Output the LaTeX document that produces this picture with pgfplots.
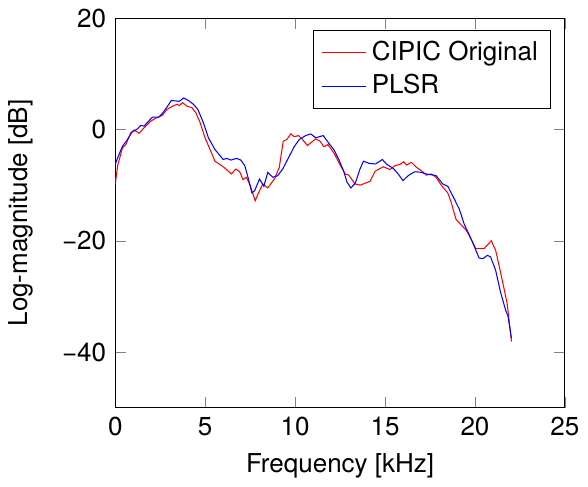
\documentclass[border=0pt]{standalone}
\usepackage{fontspec}
\setmainfont{TeX Gyre Heros}
\usepackage{pgfplots}
\pgfplotsset{compat=1.18}
\begin{document}
\begin{tikzpicture}
\begin{axis}[
  scale only axis,
  width=173pt, height=150pt,
  xmin=0, xmax=25, ymin=-50, ymax=20,
  xtick={0,5,10,15,20,25},
  ytick={-40,-20,0,20},
  yticklabels={\textminus40,\textminus20,0,20},
  /pgf/number format/assume math mode=true,
  xlabel={Frequency [kHz]},
  ylabel={Log-magnitude [dB]},
  ylabel style={yshift=4.2pt},
  legend cell align=left,
  legend pos=north east,
]
\addplot[color=red, line width=0.4pt] coordinates {
(0,-9.8) (0.13,-6.5) (0.4,-3.3) (0.59,-2.7) (0.86,-0.6) (1.05,-0.1) (1.32,-0.7) (1.6,0.3)
(1.97,1.5) (2.24,2.0) (2.6,2.5) (2.88,3.6) (3.25,4.3) (3.43,4.5) (3.56,4.3) (3.74,4.8)
(3.98,4.2) (4.26,3.9) (4.48,3.0) (4.72,1.2) (4.99,-1.5) (5.27,-3.6) (5.54,-5.7) (6.0,-6.7)
(6.46,-8.0) (6.7,-7.1) (6.92,-7.6) (7.1,-9.0) (7.29,-8.6) (7.47,-9.8) (7.78,-12.8) (8.02,-11.0)
(8.2,-9.8) (8.48,-10.5) (8.85,-8.9) (9.12,-6.8) (9.34,-2.1) (9.54,-1.8) (9.76,-0.8) (9.95,-1.3)
(10.19,-1.1) (10.41,-1.8) (10.68,-2.9) (11.14,-1.7) (11.38,-2.1) (11.6,-3.1) (11.82,-2.7)
(12.15,-4.2) (12.52,-6.5) (12.79,-8.0) (12.98,-8.2) (13.34,-9.8) (13.62,-10.0) (14.17,-9.3)
(14.45,-7.5) (14.9,-6.7) (15.27,-7.2) (15.55,-6.5) (15.82,-6.3) (16.04,-5.8) (16.19,-6.4)
(16.46,-5.9) (16.74,-6.8) (17.02,-7.4) (17.29,-8.2) (17.57,-8.0) (17.84,-8.6) (18.12,-10.0)
(18.49,-11.4) (18.67,-13.0) (18.94,-16.1) (19.22,-17.1) (19.49,-18.0) (19.68,-19.0)
(20.04,-21.4) (20.5,-21.4) (20.91,-20.0) (21.15,-21.7) (21.42,-25.6) (21.79,-31.25) (22.03,-38.1)
};
\addlegendentry{CIPIC Original}
\addplot[color=blue, line width=0.4pt] coordinates {
(0,-6.25) (0.13,-5.1) (0.4,-3.0) (0.68,-1.8) (0.92,-0.5) (1.23,0.1) (1.41,0.7) (1.6,0.6)
(2.06,2.2) (2.42,2.2) (2.6,2.8) (2.88,4.05) (3.12,5.2) (3.56,5.05) (3.8,5.65) (4.07,5.2)
(4.35,4.5) (4.59,3.6) (4.9,1.2) (5.18,-1.5) (5.54,-3.6) (6.0,-5.4) (6.19,-5.2) (6.43,-5.5)
(6.74,-5.2) (6.98,-5.5) (7.2,-6.5) (7.38,-8.6) (7.6,-11.4) (7.75,-11.0) (8.02,-8.9) (8.26,-10.2)
(8.48,-7.7) (8.76,-8.6) (9.03,-8.3) (9.31,-7.1) (9.58,-5.4) (9.95,-3.1) (10.23,-1.8) (10.59,-1.1)
(10.87,-0.8) (11.14,-1.5) (11.56,-1.1) (11.88,-2.5) (12.15,-3.6) (12.43,-5.4) (12.7,-7.5)
(12.89,-9.5) (13.1,-10.5) (13.34,-9.7) (13.62,-7.0) (13.8,-5.7) (14.12,-6.1) (14.48,-6.2)
(14.85,-5.4) (15.09,-6.25) (15.46,-7.0) (15.73,-8.0) (16.0,-9.2) (16.19,-8.6) (16.33,-8.2)
(16.65,-7.6) (17.02,-7.7) (17.29,-8.0) (17.7,-8.2) (17.84,-8.3) (18.21,-9.8) (18.49,-10.2)
(18.76,-11.9) (19.13,-14.3) (19.4,-17.0) (19.59,-18.3) (19.86,-20.2) (20.23,-23.1) (20.45,-23.2)
(20.69,-22.6) (20.87,-22.9) (21.15,-25.3) (21.42,-29.2) (21.7,-32.4) (21.84,-33.6) (22.03,-37.5)
};
\addlegendentry{PLSR}
\end{axis}
\end{tikzpicture}
\end{document}
